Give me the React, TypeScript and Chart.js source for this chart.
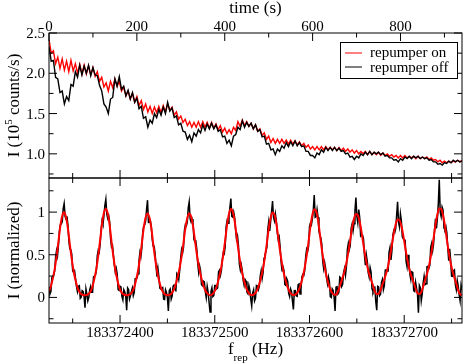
import React, { useEffect, useRef } from 'react';
import { Chart, registerables } from 'chart.js';

Chart.register(...registerables);

const SERIF = '"Liberation Serif", "Times New Roman", Times, serif';

// ---------- Top panel: intensity vs time ----------
const TIME_START = 0;
const TIME_STEP = 5; // seconds between samples
const TIME_MAJOR = [0, 200, 400, 600, 800];
const TIME_MINOR = [100, 300, 500, 700, 900];
const INTENSITY_MAJOR = [1.0, 1.5, 2.0, 2.5];
const INTENSITY_MINOR = [0.75, 1.25, 1.75, 2.25];

// repumper off (black), 10^5 counts/s
const repumperOff = [
  2.33, 2.15, 2.16, 1.95, 1.93, 1.76, 1.78, 1.62, 1.71, 1.66,
  1.86, 1.84, 2.02, 1.95, 2.10, 1.98, 2.09, 2.00, 2.10, 1.97,
  2.07, 1.98, 1.97, 1.85, 1.78, 1.62, 1.58, 1.50, 1.68, 1.70,
  1.93, 1.84, 1.96, 1.80, 1.84, 1.72, 1.79, 1.68, 1.76, 1.64,
  1.69, 1.56, 1.59, 1.44, 1.46, 1.33, 1.42, 1.38, 1.50, 1.45,
  1.55, 1.48, 1.58, 1.50, 1.64, 1.53, 1.57, 1.45, 1.47, 1.36,
  1.38, 1.28, 1.27, 1.18, 1.23, 1.15, 1.26, 1.22, 1.30, 1.26,
  1.36, 1.29, 1.37, 1.31, 1.38, 1.31, 1.36, 1.28, 1.30, 1.21,
  1.22, 1.13, 1.17, 1.10, 1.22, 1.24, 1.33, 1.30, 1.41, 1.33,
  1.39, 1.34, 1.38, 1.31, 1.36, 1.28, 1.30, 1.21, 1.22, 1.12,
  1.13, 1.05, 1.06, 0.99, 1.06, 1.03, 1.10, 1.07, 1.14, 1.09,
  1.15, 1.10, 1.16, 1.10, 1.14, 1.09, 1.10, 1.03, 1.03, 0.98,
  0.98, 0.95, 1.01, 0.99, 1.05, 1.02, 1.08, 1.04, 1.08, 1.04,
  1.08, 1.04, 1.07, 1.03, 1.04, 1.00, 1.01, 0.96, 0.97, 0.93,
  0.97, 0.95, 1.00, 0.98, 1.02, 0.99, 1.03, 0.99, 1.02, 1.00,
  1.02, 0.99, 1.01, 0.97, 0.98, 0.95, 0.95, 0.92, 0.93, 0.90,
  0.94, 0.92, 0.96, 0.94, 0.97, 0.94, 0.97, 0.95, 0.97, 0.94,
  0.96, 0.94, 0.95, 0.92, 0.93, 0.90, 0.90, 0.87, 0.88, 0.86,
  0.89, 0.88, 0.91, 0.89, 0.92, 0.90, 0.92, 0.90, 0.91,
];

// repumper on (red), 10^5 counts/s
const repumperOn = [
  2.42, 2.25, 2.28, 2.12, 2.20, 2.06, 2.18, 2.04, 2.15, 2.02,
  2.16, 2.03, 2.12, 2.00, 2.11, 1.99, 2.10, 1.99, 2.09, 1.98,
  2.07, 1.96, 2.02, 1.90, 1.95, 1.83, 1.88, 1.78, 1.90, 1.82,
  1.93, 1.84, 1.90, 1.78, 1.83, 1.72, 1.78, 1.68, 1.75, 1.64,
  1.71, 1.60, 1.66, 1.55, 1.62, 1.52, 1.59, 1.50, 1.58, 1.51,
  1.59, 1.51, 1.60, 1.52, 1.62, 1.54, 1.58, 1.48, 1.52, 1.43,
  1.47, 1.39, 1.43, 1.35, 1.40, 1.33, 1.39, 1.33, 1.40, 1.33,
  1.40, 1.33, 1.39, 1.32, 1.39, 1.32, 1.37, 1.30, 1.35, 1.27,
  1.32, 1.25, 1.30, 1.25, 1.33, 1.29, 1.40, 1.34, 1.42, 1.35,
  1.40, 1.34, 1.38, 1.31, 1.36, 1.28, 1.31, 1.23, 1.26, 1.18,
  1.22, 1.14, 1.19, 1.13, 1.18, 1.13, 1.18, 1.13, 1.17, 1.12,
  1.17, 1.12, 1.16, 1.11, 1.15, 1.10, 1.13, 1.08, 1.11, 1.06,
  1.09, 1.05, 1.09, 1.05, 1.09, 1.05, 1.09, 1.05, 1.08, 1.05,
  1.08, 1.04, 1.08, 1.04, 1.07, 1.03, 1.06, 1.02, 1.05, 1.01,
  1.04, 1.00, 1.03, 1.00, 1.03, 0.99, 1.03, 0.99, 1.02, 0.99,
  1.02, 0.98, 1.01, 0.98, 1.00, 0.97, 0.99, 0.96, 0.98, 0.95,
  0.98, 0.95, 0.98, 0.95, 0.97, 0.95, 0.97, 0.94, 0.97, 0.94,
  0.96, 0.94, 0.96, 0.93, 0.95, 0.92, 0.93, 0.90, 0.92, 0.89,
  0.91, 0.89, 0.91, 0.89, 0.91, 0.90, 0.92, 0.90, 0.92,
];

// ---------- Bottom panel: normalized intensity vs f_rep ----------
const FREQ_BASE = 183372000;
const FREQ_START = 325; // Hz above base, even-sample grid
const FREQ_STEP = 2;
const FREQ_MID_START = 326; // Hz above base, in-between sample grid
const FREQ_END = 761;
const FREQ_MAJOR = [400, 500, 600, 700];
const FREQ_MINOR = [350, 450, 550, 650, 750];
const NORM_MAJOR = [0, 0.5, 1];
const NORM_MINOR = [-0.25, 0.25, 0.75, 1.25];

// measured (black), samples at 325, 327, ... Hz
const measuredNorm = [
  0.123, 0.068, 0.249, 0.311, 0.551, 0.616, 0.852, 0.888, 1.10, 0.912,
  0.841, 0.566, 0.512, 0.293, 0.222, 0.068, 0.136, 0.003, 0.071, -0.12,
  0.036, 0.000, 0.129, 0.061, 0.251, 0.316, 0.554, 0.625, 0.899, 0.958,
  1.15, 0.927, 0.890, 0.592, 0.495, 0.296, 0.276, 0.081, 0.118, -0.030,
  0.064, -0.15, 0.092, 0.018, 0.110, 0.058, 0.221, 0.278, 0.527, 0.581,
  0.840, 0.895, 1.14, 0.881, 0.833, 0.602, 0.513, 0.243, 0.242, 0.100,
  0.117, -0.024, 0.057, -0.16, 0.098, 0.016, 0.145, 0.090, 0.263, 0.318,
  0.562, 0.586, 0.854, 0.883, 1.12, 0.884, 0.875, 0.652, 0.568, 0.294,
  0.314, 0.138, 0.181, -0.002, 0.061, -0.17, 0.114, 0.024, 0.139, 0.111,
  0.319, 0.316, 0.525, 0.597, 0.898, 0.946, 1.16, 0.941, 0.936, 0.682,
  0.612, 0.322, 0.317, 0.143, 0.189, 0.043, 0.086, -0.10, 0.089, -0.011,
  0.133, 0.126, 0.313, 0.289, 0.499, 0.587, 0.889, 0.895, 1.13, 0.898,
  0.899, 0.680, 0.592, 0.314, 0.320, 0.141, 0.189, 0.011, 0.071, -0.14,
  0.081, 0.013, 0.158, 0.096, 0.270, 0.320, 0.567, 0.596, 0.872, 0.918,
  1.20, 0.948, 0.940, 0.717, 0.621, 0.336, 0.345, 0.160, 0.188, -0.001,
  0.080, -0.16, 0.135, 0.058, 0.228, 0.155, 0.339, 0.356, 0.632, 0.603,
  0.860, 0.864, 1.17, 0.874, 0.939, 0.732, 0.685, 0.378, 0.424, 0.238,
  0.298, 0.071, 0.121, -0.15, 0.122, 0.036, 0.212, 0.135, 0.323, 0.310,
  0.585, 0.546, 0.784, 0.806, 1.12, 0.826, 0.899, 0.687, 0.669, 0.360,
  0.401, 0.208, 0.292, 0.070, 0.113, -0.18, 0.114, 0.041, 0.247, 0.159,
  0.366, 0.375, 0.635, 0.634, 0.922, 0.922, 1.38, 0.947, 1.023, 0.797,
  0.758, 0.430, 0.444, 0.248, 0.322, 0.090, 0.133, -0.041, 0.087,
];

// measured (black), samples at 326, 328, ... Hz
const measuredNormMid = [
  0.04, 0.23, 0.26, 0.48, 0.49, 0.78, 0.86, 1.04, 0.95, 0.95,
  0.66, 0.56, 0.31, 0.31, 0.13, 0.13, -0.01, 0.08, 0.01, 0.10,
  -0.04, 0.09, 0.06, 0.24, 0.26, 0.49, 0.53, 0.79, 0.86, 1.08,
  0.98, 0.96, 0.69, 0.61, 0.38, 0.34, 0.09, 0.13, 0.01, 0.09,
  0.01, 0.11, -0.02, 0.07, 0.02, 0.22, 0.23, 0.43, 0.48, 0.77,
  0.85, 1.03, 0.88, 0.90, 0.68, 0.60, 0.37, 0.34, 0.11, 0.11,
  -0.02, 0.09, 0.00, 0.08, -0.02, 0.13, 0.11, 0.28, 0.21, 0.46,
  0.52, 0.79, 0.84, 1.05, 0.92, 0.92, 0.68, 0.66, 0.40, 0.37,
  0.15, 0.19, 0.07, 0.13, -0.06, 0.07, 0.01, 0.14, 0.10, 0.30,
  0.26, 0.45, 0.51, 0.83, 0.87, 1.06, 0.95, 1.00, 0.79, 0.72,
  0.39, 0.38, 0.20, 0.21, 0.06, 0.14, -0.02, 0.05, -0.04, 0.14,
  0.09, 0.25, 0.22, 0.46, 0.54, 0.80, 0.78, 1.01, 0.94, 0.98,
  0.76, 0.71, 0.42, 0.36, 0.15, 0.22, 0.05, 0.10, -0.04, 0.08,
  0.02, 0.15, 0.04, 0.24, 0.26, 0.48, 0.54, 0.83, 0.85, 1.02,
  0.94, 1.03, 0.78, 0.70, 0.42, 0.41, 0.23, 0.24, 0.01, 0.10,
  0.00, 0.12, 0.04, 0.24, 0.13, 0.29, 0.26, 0.56, 0.56, 0.81,
  0.78, 1.02, 0.95, 1.03, 0.72, 0.73, 0.50, 0.50, 0.29, 0.35,
  0.10, 0.12, -0.05, 0.13, 0.02, 0.18, 0.09, 0.32, 0.31, 0.53,
  0.44, 0.73, 0.76, 0.96, 0.88, 0.98, 0.71, 0.68, 0.42, 0.50,
  0.27, 0.30, 0.08, 0.18, 0.04, 0.14, -0.04, 0.17, 0.15, 0.36,
  0.34, 0.59, 0.55, 0.79, 0.81, 1.10, 1.00, 1.06, 0.81, 0.83,
  0.58, 0.57, 0.25, 0.31, 0.15, 0.20, 0.03, 0.14,
];

// fit (red), samples at 325, 327, ... Hz
const fitNorm = [
  0.074, 0.131, 0.221, 0.332, 0.481, 0.658, 0.838, 0.958, 0.997, 0.940,
  0.806, 0.622, 0.449, 0.307, 0.201, 0.117, 0.066, 0.038, 0.029, 0.025,
  0.029, 0.042, 0.073, 0.131, 0.223, 0.337, 0.491, 0.674, 0.864, 0.993,
  1.039, 0.983, 0.848, 0.655, 0.474, 0.324, 0.213, 0.123, 0.069, 0.040,
  0.029, 0.025, 0.029, 0.039, 0.068, 0.121, 0.207, 0.313, 0.457, 0.630,
  0.812, 0.937, 0.985, 0.937, 0.812, 0.630, 0.457, 0.313, 0.207, 0.121,
  0.068, 0.039, 0.029, 0.025, 0.034, 0.056, 0.097, 0.162, 0.247, 0.350,
  0.482, 0.642, 0.814, 0.931, 0.983, 0.948, 0.843, 0.676, 0.512, 0.374,
  0.266, 0.178, 0.109, 0.062, 0.037, 0.026, 0.034, 0.056, 0.099, 0.167,
  0.255, 0.364, 0.501, 0.669, 0.850, 0.978, 1.037, 1.005, 0.896, 0.722,
  0.548, 0.402, 0.285, 0.191, 0.117, 0.067, 0.038, 0.027, 0.033, 0.053,
  0.093, 0.158, 0.241, 0.345, 0.475, 0.635, 0.809, 0.935, 0.996, 0.970,
  0.867, 0.704, 0.536, 0.394, 0.280, 0.189, 0.117, 0.067, 0.039, 0.027,
  0.033, 0.053, 0.094, 0.160, 0.246, 0.352, 0.487, 0.652, 0.832, 0.966,
  1.035, 1.012, 0.908, 0.741, 0.565, 0.416, 0.297, 0.200, 0.124, 0.071,
  0.040, 0.031, 0.045, 0.098, 0.168, 0.235, 0.309, 0.406, 0.532, 0.673,
  0.820, 0.924, 0.979, 0.964, 0.889, 0.762, 0.615, 0.478, 0.364, 0.278,
  0.208, 0.141, 0.068, 0.039, 0.042, 0.086, 0.152, 0.215, 0.283, 0.370,
  0.485, 0.616, 0.754, 0.856, 0.913, 0.906, 0.839, 0.727, 0.589, 0.460,
  0.351, 0.268, 0.202, 0.140, 0.073, 0.039, 0.044, 0.091, 0.167, 0.239,
  0.316, 0.415, 0.545, 0.694, 0.852, 0.972, 1.041, 1.037, 0.963, 0.837,
  0.678, 0.530, 0.404, 0.308, 0.232, 0.160, 0.083, 0.039, 0.027,
];

const MAJOR_LEN = 8;
const MINOR_LEN = 4.5;

type Seg = { text: string; size: number; dy: number };

function drawRich(ctx: CanvasRenderingContext2D, segs: Seg[], x: number, y: number, rotate: boolean) {
  ctx.save();
  ctx.translate(x, y);
  if (rotate) ctx.rotate(-Math.PI / 2);
  let total = 0;
  for (const s of segs) {
    ctx.font = `${s.size}px ${SERIF}`;
    total += ctx.measureText(s.text).width;
  }
  let cx = -total / 2;
  ctx.textAlign = 'left';
  ctx.textBaseline = 'alphabetic';
  ctx.fillStyle = '#000';
  for (const s of segs) {
    ctx.font = `${s.size}px ${SERIF}`;
    ctx.fillText(s.text, cx, s.dy);
    cx += ctx.measureText(s.text).width;
  }
  ctx.restore();
}

function yTicks(ctx: CanvasRenderingContext2D, ys: any, a: any, vals: number[], len: number) {
  for (const v of vals) {
    const py = ys.getPixelForValue(v);
    ctx.moveTo(a.left, py);
    ctx.lineTo(a.left + len, py);
    ctx.moveTo(a.right, py);
    ctx.lineTo(a.right - len, py);
  }
}

const topDecor = {
  id: 'topDecor',
  afterDraw(chart: any) {
    const { ctx, chartArea: a } = chart;
    const xs = chart.scales.x;
    const ys = chart.scales.y;
    ctx.save();
    ctx.strokeStyle = '#000';
    ctx.lineWidth = 1;
    ctx.strokeRect(a.left, a.top, a.right - a.left, a.bottom - a.top);
    ctx.beginPath();
    for (const t of TIME_MAJOR) {
      const px = xs.getPixelForValue(t);
      ctx.moveTo(px, a.top);
      ctx.lineTo(px, a.top + MAJOR_LEN);
    }
    for (const t of TIME_MINOR) {
      const px = xs.getPixelForValue(t);
      ctx.moveTo(px, a.top);
      ctx.lineTo(px, a.top + MINOR_LEN);
    }
    yTicks(ctx, ys, a, INTENSITY_MAJOR, MAJOR_LEN);
    yTicks(ctx, ys, a, INTENSITY_MINOR, MINOR_LEN);
    ctx.stroke();

    ctx.fillStyle = '#000';
    ctx.font = `15px ${SERIF}`;
    ctx.textBaseline = 'alphabetic';
    ctx.textAlign = 'center';
    for (const t of TIME_MAJOR) ctx.fillText(String(t), xs.getPixelForValue(t), a.top - 2.5);
    ctx.textAlign = 'right';
    for (const v of INTENSITY_MAJOR) ctx.fillText(v.toFixed(1), a.left - 4, ys.getPixelForValue(v) + 5);

    drawRich(ctx, [{ text: 'time (s)', size: 17, dy: 0 }], (a.left + a.right) / 2, 13, false);
    drawRich(
      ctx,
      [
        { text: 'I (10', size: 17, dy: 0 },
        { text: '5', size: 11, dy: -7 },
        { text: ' counts/s)', size: 17, dy: 0 },
      ],
      19,
      (a.top + a.bottom) / 2,
      true
    );

    // legend
    ctx.fillStyle = '#fff';
    ctx.fillRect(340, 43, 117, 35);
    ctx.strokeStyle = '#000';
    ctx.lineWidth = 1;
    ctx.strokeRect(340.5, 42.5, 117, 36);
    ctx.beginPath();
    ctx.strokeStyle = '#ff0000';
    ctx.moveTo(345, 53);
    ctx.lineTo(362, 53);
    ctx.stroke();
    ctx.beginPath();
    ctx.strokeStyle = '#000';
    ctx.moveTo(345, 67);
    ctx.lineTo(362, 67);
    ctx.stroke();
    ctx.fillStyle = '#000';
    ctx.font = `15px ${SERIF}`;
    ctx.textAlign = 'left';
    ctx.fillText('repumper on', 370, 56.5);
    ctx.fillText('repumper off', 370, 71.5);
    ctx.restore();
  },
};

const bottomDecor = {
  id: 'bottomDecor',
  afterDraw(chart: any) {
    const { ctx, chartArea: a } = chart;
    const xs = chart.scales.x;
    const ys = chart.scales.y;
    ctx.save();
    ctx.strokeStyle = '#000';
    ctx.lineWidth = 1;
    ctx.strokeRect(a.left, a.top, a.right - a.left, a.bottom - a.top);
    ctx.beginPath();
    for (const f of FREQ_MAJOR) {
      const px = xs.getPixelForValue(FREQ_BASE + f);
      ctx.moveTo(px, a.bottom);
      ctx.lineTo(px, a.bottom - MAJOR_LEN);
      ctx.moveTo(px, a.top - MAJOR_LEN);
      ctx.lineTo(px, a.top + MAJOR_LEN);
    }
    for (const f of FREQ_MINOR) {
      const px = xs.getPixelForValue(FREQ_BASE + f);
      ctx.moveTo(px, a.bottom);
      ctx.lineTo(px, a.bottom - MINOR_LEN);
      ctx.moveTo(px, a.top - 5);
      ctx.lineTo(px, a.top + 5);
    }
    yTicks(ctx, ys, a, NORM_MAJOR, MAJOR_LEN);
    yTicks(ctx, ys, a, NORM_MINOR, MINOR_LEN);
    ctx.stroke();

    ctx.fillStyle = '#000';
    ctx.font = `15px ${SERIF}`;
    ctx.textBaseline = 'alphabetic';
    ctx.textAlign = 'center';
    for (const f of FREQ_MAJOR) ctx.fillText(String(FREQ_BASE + f), xs.getPixelForValue(FREQ_BASE + f), a.bottom + 14);
    ctx.textAlign = 'right';
    for (const v of NORM_MAJOR) ctx.fillText(String(v), a.left - 4, ys.getPixelForValue(v) + 5);

    drawRich(
      ctx,
      [
        { text: 'f', size: 17, dy: 0 },
        { text: 'rep', size: 11, dy: 7 },
        { text: ' (Hz)', size: 17, dy: 0 },
      ],
      (a.left + a.right) / 2,
      a.bottom + 30.5,
      false
    );
    drawRich(ctx, [{ text: 'I (normalized)', size: 17, dy: 0 }], 19, (a.top + a.bottom) / 2, true);
    ctx.restore();
  },
};

export default function App() {
  const topRef = useRef<HTMLCanvasElement | null>(null);
  const botRef = useRef<HTMLCanvasElement | null>(null);

  useEffect(() => {
    const offPts = repumperOff.map((v, i) => ({ x: TIME_START + i * TIME_STEP, y: v }));
    const onPts = repumperOn.map((v, i) => ({ x: TIME_START + i * TIME_STEP, y: v }));
    const measPts = measuredNorm
      .map((v, i) => ({ x: FREQ_BASE + FREQ_START + i * FREQ_STEP, y: v }))
      .concat(measuredNormMid.map((v, i) => ({ x: FREQ_BASE + FREQ_MID_START + i * FREQ_STEP, y: v })))
      .sort((p, q) => p.x - q.x);
    const fitPts = fitNorm.map((v, i) => ({ x: FREQ_BASE + FREQ_START + i * FREQ_STEP, y: v }));

    const top = new Chart(topRef.current as HTMLCanvasElement, {
      type: 'line',
      data: {
        datasets: [
          { label: 'repumper off', data: offPts, borderColor: '#000000', borderWidth: 1.4, pointRadius: 0, tension: 0, fill: false },
          { label: 'repumper on', data: onPts, borderColor: '#ff0000', borderWidth: 1.4, pointRadius: 0, tension: 0, fill: false },
        ],
      },
      options: {
        animation: false,
        responsive: false,
        maintainAspectRatio: false,
        events: [],
        layout: { padding: { left: 49, right: 1, top: 33, bottom: 1 } },
        plugins: { legend: { display: false }, tooltip: { enabled: false } },
        scales: {
          x: { type: 'linear', display: false, min: 0, max: 940 },
          y: { type: 'linear', display: false, min: 0.7, max: 2.5 },
        },
      },
      plugins: [topDecor],
    } as any);

    const bottom = new Chart(botRef.current as HTMLCanvasElement, {
      type: 'line',
      data: {
        datasets: [
          { label: 'fit', data: fitPts, borderColor: '#ff0000', borderWidth: 2, pointRadius: 0, cubicInterpolationMode: 'monotone', fill: false },
          { label: 'data', data: measPts, borderColor: '#000000', borderWidth: 1.5, pointRadius: 0, tension: 0, fill: false },
        ],
      },
      options: {
        animation: false,
        responsive: false,
        maintainAspectRatio: false,
        events: [],
        layout: { padding: { left: 49, right: 1, top: 8, bottom: 41 } },
        plugins: { legend: { display: false }, tooltip: { enabled: false } },
        scales: {
          x: { type: 'linear', display: false, min: FREQ_BASE + FREQ_START, max: FREQ_BASE + FREQ_END },
          y: { type: 'linear', display: false, min: -0.3, max: 1.4 },
        },
      },
      plugins: [bottomDecor],
    } as any);

    return () => {
      top.destroy();
      bottom.destroy();
    };
  }, []);

  return (
    <div style={{ position: 'absolute', left: 0, top: 0, width: 463, height: 364, background: '#fff' }}>
      <canvas ref={topRef} width={463} height={179} style={{ position: 'absolute', left: 0, top: 0, width: 463, height: 179 }} />
      <canvas ref={botRef} width={463} height={194} style={{ position: 'absolute', left: 0, top: 170, width: 463, height: 194 }} />
    </div>
  );
}
